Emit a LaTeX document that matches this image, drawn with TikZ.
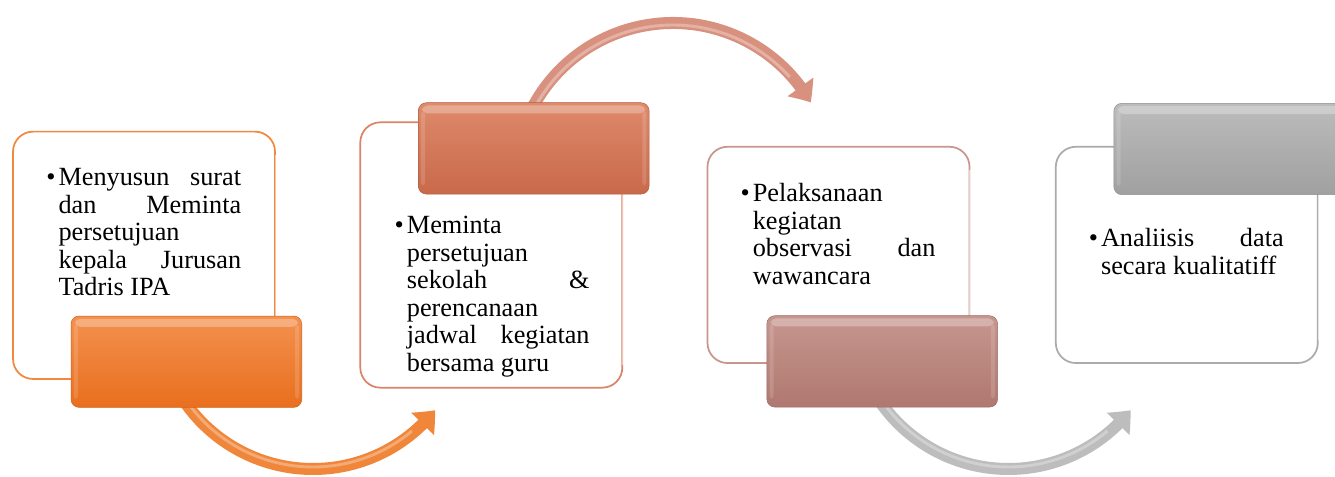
\documentclass[tikz,border=0pt]{standalone}
\usepackage{fontspec}
\setmainfont{Liberation Serif}
\usetikzlibrary{arrows.meta,bending,calc}
\definecolor{bo1}{HTML}{F0893F}
\definecolor{bo2}{HTML}{DA8468}
\definecolor{bo3}{HTML}{C9968E}
\definecolor{bo4}{HTML}{ABABAB}
\definecolor{ht1}{HTML}{F3914F}
\definecolor{hb1}{HTML}{E96F1E}
\definecolor{ht2}{HTML}{DE8A6B}
\definecolor{hb2}{HTML}{C8694A}
\definecolor{ht3}{HTML}{C6968E}
\definecolor{hb3}{HTML}{AF7870}
\definecolor{ht4}{HTML}{BCBCBC}
\definecolor{hb4}{HTML}{A0A0A0}
\definecolor{ar1}{HTML}{F0863A}
\definecolor{ar2}{HTML}{D9917F}
\definecolor{ar3}{HTML}{BDBDBD}
\newcommand{\jline}[1]{\makebox[137pt][s]{#1}}
\newcommand{\bultext}[1]{\makebox[9.2pt][l]{\textbullet}\parbox[t]{140pt}{#1}}
\tikzset{
  whitebox/.style={draw=#1, line width=1.3pt, rounded corners=15pt, fill=white,
    minimum width=196.5pt, inner sep=0pt},
  headbox/.style={rounded corners=6pt, minimum width=173pt, minimum height=68.5pt,
    inner sep=0pt, draw=#1!90!black, line width=0.4pt},
  flowarrow/.style={draw=#1, line width=9pt, -{Triangle[length=14pt,width=23pt,bend]}},
  gloss/.style={white, opacity=0.28},
  sidegloss/.style={white, opacity=0.14},
  fade/.style={white, opacity=0.55, line width=1.4pt},
  shine/.style={white, opacity=0.3, line width=2.2pt},
  txt/.style={anchor=base west, inner sep=0pt, font=\fontsize{19.7pt}{20.6pt}\selectfont},
}
\begin{document}
\begin{tikzpicture}[x=0.75pt,y=-0.75pt]
\useasboundingbox (0,0) rectangle (1335,477);
\fill[white] (0,0) rectangle (1335,477);

% arrow centres
\coordinate (c1) at (313,313);
\coordinate (c2) at (673,182);
\coordinate (c3) at (1008.5,313);
\path (c1) ++(146:156) coordinate (a1s);
\path (c2) ++(208:159) coordinate (a2s);
\path (c3) ++(146:156) coordinate (a3s);

% arrows
\draw[flowarrow=ar1] (a1s) arc[start angle=146, end angle=38.5, radius=156];
\draw[shine] (c1) ++(144:154) arc[start angle=144, end angle=50, radius=154];
\draw[flowarrow=ar2] (a2s) arc[start angle=208, end angle=330, radius=159];
\draw[shine] (c2) ++(210:157) arc[start angle=210, end angle=318, radius=157];
\draw[flowarrow=ar3] (a3s) arc[start angle=146, end angle=38.5, radius=156];
\draw[shine] (c3) ++(144:154) arc[start angle=144, end angle=50, radius=154];

% white boxes
\node[whitebox=bo1, minimum height=185.5pt] (b1) at (144,255.3) {};
\node[whitebox=bo2, minimum height=199pt]   (b2) at (491.3,255) {};
\node[whitebox=bo3, minimum height=162.2pt] (b3) at (838.5,254.9) {};
\node[whitebox=bo4, minimum height=162.2pt] (b4) at (1186.8,254.9) {};
\foreach \b in {b1,b2,b3,b4}{
  \draw[fade] ($(\b.north east)+(0,24)$) -- ($(\b.south east)+(0,-24)$);
}

% header boxes
\node[headbox=hb1, top color=ht1, bottom color=hb1] (h1) at (186.4,361.7) {};
\node[headbox=hb2, top color=ht2, bottom color=hb2] (h2) at (533.7,148.4) {};
\node[headbox=hb3, top color=ht3, bottom color=hb3] (h3) at (882.2,361.4) {};
\node[headbox=hb4, top color=ht4, bottom color=hb4] (h4) at (1229.2,149) {};
\foreach \h in {h1,h2,h3,h4}{
  \fill[gloss, rounded corners=4pt] ($(\h.north west)+(4,3)$) rectangle ($(\h.north east)+(-4,11)$);
  \fill[sidegloss, rounded corners=2pt] ($(\h.north west)+(3,9)$) rectangle ($(\h.south west)+(7,-9)$);
  \fill[sidegloss, rounded corners=2pt] ($(\h.north east)+(-7,9)$) rectangle ($(\h.south east)+(-3,-9)$);
}

% texts
\node[txt] (t1) at (46,186) {\bultext{%
  \jline{Menyusun surat}\\
  \jline{dan Meminta}\\
  persetujuan\\
  \jline{kepala Jurusan}\\
  Tadris IPA}};
\node[txt] (t2) at (394.4,234) {\bultext{%
  Meminta\\
  persetujuan\\
  \jline{sekolah \&}\\
  perencanaan\\
  \jline{jadwal kegiatan}\\
  bersama guru}};
\node[txt] (t3) at (740.3,201.7) {\bultext{%
  Pelaksanaan\\
  kegiatan\\
  \jline{observasi dan}\\
  wawancara}};
\node[txt] (t4) at (1088.5,246.7) {\bultext{%
  \jline{Analiisis data}\\
  secara kualitatiff}};
\end{tikzpicture}
\end{document}
